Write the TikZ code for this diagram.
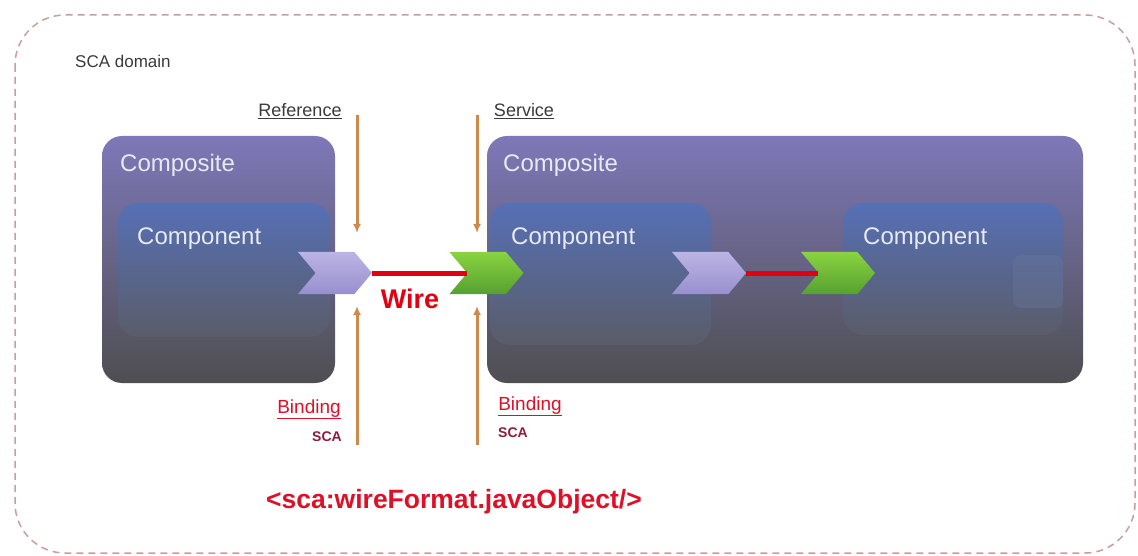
\documentclass[tikz,border=0pt]{standalone}
\usepackage{fontspec}
\setmainfont{Liberation Sans}
\usetikzlibrary{shapes.symbols}
\usetikzlibrary{arrows.meta}
\definecolor{domainEdge}{RGB}{200,158,162}
\definecolor{domainText}{RGB}{58,58,58}
\definecolor{compTop}{RGB}{126,120,184}
\definecolor{compMid}{RGB}{104,102,140}
\definecolor{compBot}{RGB}{78,78,82}
\definecolor{cmpTop}{RGB}{86,112,182}
\definecolor{cmpBot}{RGB}{90,92,104}
\definecolor{cmpSide}{RGB}{110,124,160}
\definecolor{refTop}{RGB}{188,180,228}
\definecolor{refBot}{RGB}{152,144,206}
\definecolor{srvTop}{RGB}{136,212,64}
\definecolor{srvBot}{RGB}{88,160,48}
\definecolor{wireRed}{RGB}{226,0,16}
\definecolor{feedOrange}{RGB}{204,138,76}
\definecolor{labelWhite}{RGB}{232,234,242}
\definecolor{bindRed}{RGB}{222,16,40}
\definecolor{scaRed}{RGB}{140,30,60}
\newcommand\fsz[1]{\fontsize{#1}{#1}\selectfont}
\tikzstyle{every node}=[inner sep=0pt]
\tikzstyle{every path}=[line join=round]
\tikzstyle{composite}=[rounded corners=20pt,top color=compTop,middle color=compMid,bottom color=compBot]
\tikzstyle{component}=[rounded corners=20pt,top color=cmpTop,bottom color=cmpBot]
\tikzstyle{chevron}=[signal,signal to=east,signal from=west,signal pointer angle=100,minimum width=74pt,minimum height=42pt]
\tikzstyle{chevref}=[chevron,top color=refTop,bottom color=refBot]
\tikzstyle{chevsrv}=[chevron,top color=srvTop,bottom color=srvBot]
\tikzstyle{wire}=[draw=wireRed,line width=5pt]
\tikzstyle{feed}=[draw=feedOrange,line width=3pt,-{Latex[length=9pt,width=8pt]}]
\tikzstyle{boxlabel}=[text=labelWhite,font=\fsz{24},anchor=base west]
\tikzstyle{tag}=[text=domainText,font=\fsz{18},anchor=base]
\tikzstyle{binding}=[text=bindRed,font=\fsz{19},anchor=base]
\tikzstyle{scatag}=[text=scaRed,font=\bfseries\fsz{14}]

\begin{document}
\begin{tikzpicture}[x=1pt,y=-1pt]
\useasboundingbox (0,0) rectangle (1138,556);
%domain
\draw[domainEdge,line width=1.5pt,dash pattern=on 7pt off 5pt,rounded corners=50pt]
(15,15) rectangle (1135,553);
\node[text=domainText,font=\fsz{17},anchor=base west] (domain) at (75,68) {SCA domain};
%composites
\shade[composite] (102,136) rectangle (335,383);
\shade[composite] (487,136) rectangle (1083,383);
%components
\shade[component] (118,203) rectangle (330,337);
\shade[component] (490,203) rectangle (711,345);
\shade[component] (843,203) rectangle (1063,335);
\fill[cmpSide,opacity=0.3,rounded corners=8pt] (1013,255) rectangle (1063,308);
\node[boxlabel] (compL) at (120,172) {Composite};
\node[boxlabel] (compR) at (503,172) {Composite};
\node[boxlabel] (cmpA) at (137,245) {Component};
\node[boxlabel] (cmpB) at (511,245) {Component};
\node[boxlabel] (cmpC) at (863,245) {Component};
%reference / service
\node[tag] (refText) at (300,117) {\underline{Reference}};
\node[tag] (srvText) at (524,117) {\underline{Service}};
\coordinate (refTop) at (357,115);
\coordinate (refHit) at (357,233);
\coordinate (refLow) at (357,445);
\coordinate (refUp) at (357,306);
\coordinate (srvTop) at (477,115);
\coordinate (srvHit) at (477,233);
\coordinate (srvLow) at (477,445);
\coordinate (srvUp) at (477,306);
\draw[feed] (refTop) -- (refHit);
\draw[feed] (refLow) -- (refUp);
\draw[feed] (srvTop) -- (srvHit);
\draw[feed] (srvLow) -- (srvUp);
%wires
\node[chevref] (refA) at (335,273) {};
\node[chevsrv] (srvA) at (486.5,273) {};
\node[chevref] (refB) at (709,273) {};
\node[chevsrv] (srvB) at (838,273) {};
\draw[wire] (refA.east) -- (srvA.west);
\draw[wire] (refB.east) -- (srvB.west);
\node[text=wireRed,font=\bfseries\fsz{27},anchor=base] (wireText) at (410,308) {Wire};
%bindings
\node[binding] (bindL) at (309,413) {\underline{Binding}};
\node[scatag,anchor=base east] (scaL) at (342,441) {SCA};
\node[binding] (bindR) at (530,410) {\underline{Binding}};
\node[scatag,anchor=base west] (scaR) at (498,437) {SCA};
\node[text=bindRed,font=\bfseries\fsz{26.5},anchor=base] (format) at (454,508) {<sca:wireFormat.javaObject/>};
\end{tikzpicture}
\end{document}
